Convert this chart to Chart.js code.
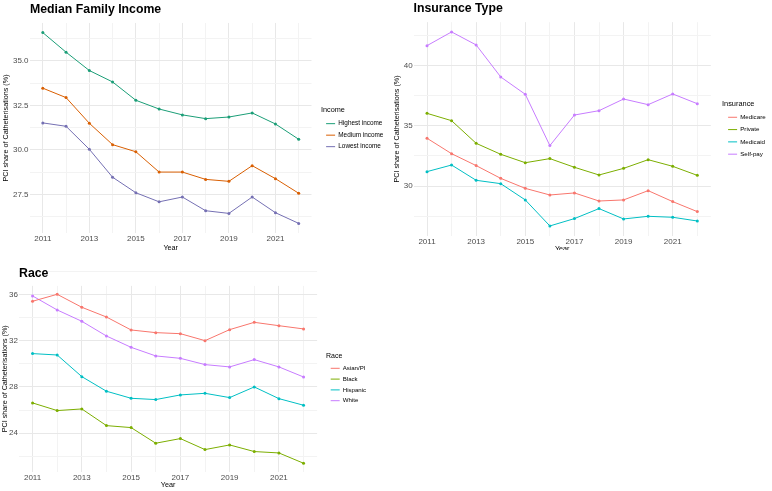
<!DOCTYPE html>
<html>
<head>
<meta charset="utf-8">
<script src="https://cdn.jsdelivr.net/npm/chart.js@4/dist/chart.umd.min.js"></script>
<style>
body { margin: 0; background: #fff; }
#wrap { position: relative; width: 772px; height: 491px; }
canvas { position: absolute; }
</style>
</head>
<body>
<div id="wrap">
  <canvas id="income-chart" width="390" height="250" style="left:0;top:0"></canvas>
  <canvas id="insurance-chart" width="382" height="250" style="left:390px;top:0"></canvas>
  <canvas id="race-chart" width="390" height="241" style="left:0;top:250px"></canvas>
</div>
<script>
const years = [2011, 2012, 2013, 2014, 2015, 2016, 2017, 2018, 2019, 2020, 2021, 2022];
const xTickLabels = ['2011', '2013', '2015', '2017', '2019', '2021'];

// Median family income
const incomeGroups = ['Highest income', 'Medium income', 'Lowest income'];
const highestIncome = [36.59, 35.49, 34.46, 33.82, 32.79, 32.30, 31.97, 31.76, 31.85, 32.08, 31.46, 30.60];
const mediumIncome = [33.47, 32.94, 31.50, 30.30, 29.90, 28.76, 28.76, 28.35, 28.24, 29.12, 28.39, 27.57];
const lowestIncome = [31.52, 31.33, 30.04, 28.47, 27.60, 27.09, 27.36, 26.59, 26.44, 27.36, 26.48, 25.88];
const incomeYTicks = [27.5, 30, 32.5, 35];
const incomeYLabels = ['27.5', '30.0', '32.5', '35.0'];

// Insurance type
const insuranceGroups = ['Medicare', 'Private', 'Medicaid', 'Self-pay'];
const medicare = [33.97, 32.69, 31.70, 30.64, 29.81, 29.26, 29.43, 28.76, 28.85, 29.62, 28.71, 27.88];
const privateIns = [36.04, 35.43, 33.55, 32.64, 31.94, 32.28, 31.56, 30.92, 31.47, 32.19, 31.64, 30.89];
const medicaid = [31.20, 31.75, 30.48, 30.20, 28.85, 26.69, 27.30, 28.13, 27.27, 27.49, 27.41, 27.10];
const selfPay = [41.66, 42.80, 41.72, 39.06, 37.62, 33.36, 35.90, 36.26, 37.23, 36.76, 37.65, 36.84];
const insuranceYTicks = [30, 35, 40];
const insuranceYLabels = ['30', '35', '40'];

// Race
const raceGroups = ['Asian/PI', 'Black', 'Hispanic', 'White'];
const asianPI = [35.40, 36.00, 34.88, 34.04, 32.92, 32.69, 32.60, 32.00, 32.95, 33.58, 33.29, 33.01];
const black = [26.62, 25.96, 26.10, 24.66, 24.49, 23.14, 23.54, 22.59, 22.99, 22.42, 22.30, 21.41];
const hispanic = [30.88, 30.76, 28.89, 27.63, 27.02, 26.91, 27.31, 27.45, 27.08, 28.00, 26.99, 26.42];
const white = [35.86, 34.65, 33.67, 32.40, 31.42, 30.68, 30.47, 29.93, 29.73, 30.36, 29.73, 28.86];
const raceYTicks = [24, 28, 32, 36];
const raceYLabels = ['24', '28', '32', '36'];

const dark2 = ['#1B9E77', '#D95F02', '#7570B3'];
const hue4 = ['#F8766D', '#7CAE00', '#00BFC4', '#C77CFF'];

Chart.defaults.font.family = "'Liberation Sans', Arial, sans-serif";

const MAJOR_GRID = '#e8e8e8';
const MINOR_GRID = '#f3f3f3';

// the legend takes a fixed width so the panel edge stays where it should
const legendWidthPlugin = {
    id: 'legendWidth',
    beforeLayout(chart, args, opts) {
        const lg = chart.legend;
        if (lg && !lg._fixedFit) {
            const origFit = lg.fit.bind(lg);
            lg.fit = function() {
                origFit();
                this.width = opts.width;
            };
            lg._fixedFit = true;
        }
    }
};

function withMinors(majors) {
    // ggplot style minor breaks half-way between majors, one step beyond each end
    const step = majors[1] - majors[0];
    const all = [majors[0] - step / 2];
    majors.forEach(v => { all.push(v); all.push(v + step / 2); });
    return all;
}

function buildChart(canvasId, p) {
    const canvas = document.getElementById(canvasId);
    const ctx = canvas.getContext('2d');
    const xMajor = xTickLabels.map(Number);
    const yAll = withMinors(p.yTicks);

    return new Chart(ctx, {
        type: 'line',
        plugins: [legendWidthPlugin],
        data: {
            datasets: p.series.map((s, i) => ({
                label: p.groups[i],
                data: years.map((yr, j) => ({ x: yr, y: s[j] })),
                borderColor: p.colors[i],
                backgroundColor: p.colors[i],
                borderWidth: 1,
                pointRadius: 1.5,
                pointBorderWidth: 0,
                tension: 0
            }))
        },
        options: {
            responsive: false,
            animation: false,
            devicePixelRatio: 1,
            layout: { padding: 0 },
            plugins: {
                tooltip: { enabled: false },
                legendWidth: { width: canvas.width - p.legendLeft },
                title: {
                    display: true,
                    text: p.title,
                    align: 'start',
                    fullSize: false,
                    color: '#000',
                    font: { size: 12.3, weight: 'bold' },
                    padding: { top: p.titleTop, bottom: p.titleBottom }
                },
                legend: {
                    position: 'right',
                    align: 'start',
                    title: {
                        display: true,
                        text: p.legendTitle,
                        position: 'start',
                        color: '#000',
                        font: { size: p.legendTitleSize },
                        padding: { top: p.legendTitleTop, bottom: p.legendTitleBottom }
                    },
                    labels: {
                        usePointStyle: true,
                        pointStyleWidth: 9,
                        color: '#000',
                        font: { size: p.legendSize },
                        padding: p.legendPad,
                        generateLabels: chart => {
                            const items = Chart.defaults.plugins.legend.labels.generateLabels(chart);
                            return items.map(it => Object.assign(it, {
                                pointStyle: 'line',
                                lineWidth: 1,
                                strokeStyle: p.colors[it.datasetIndex]
                            }));
                        }
                    }
                }
            },
            scales: {
                x: {
                    type: 'linear',
                    min: 2010.45,
                    max: 2022.55,
                    afterBuildTicks: s => { s.ticks = years.map(v => ({ value: v })); },
                    afterFit: s => { s.height = p.xHeight; },
                    ticks: {
                        autoSkip: false,
                        maxRotation: 0,
                        padding: p.xTickPad,
                        color: '#4d4d4d',
                        font: { size: 8 },
                        callback: v => xTickLabels.includes(String(v)) ? String(v) : ''
                    },
                    grid: {
                        drawTicks: false,
                        color: c => xMajor.includes(c.tick && c.tick.value) ? MAJOR_GRID : MINOR_GRID,
                        lineWidth: 1
                    },
                    border: { display: false },
                    title: {
                        display: true,
                        text: 'Year',
                        color: '#000',
                        font: { size: 7.2 },
                        padding: { top: 0, bottom: p.xTitlePad }
                    }
                },
                y: {
                    type: 'linear',
                    min: p.yMin,
                    max: p.yMax,
                    afterBuildTicks: s => { s.ticks = yAll.map(v => ({ value: v })); },
                    afterFit: s => { s.width = p.yWidth; },
                    ticks: {
                        autoSkip: false,
                        padding: p.yTickPad,
                        color: '#4d4d4d',
                        font: { size: 8 },
                        callback: v => {
                            const k = p.yTicks.indexOf(v);
                            return k >= 0 ? p.yLabels[k] : '';
                        }
                    },
                    grid: {
                        drawTicks: false,
                        color: c => p.yTicks.includes(c.tick && c.tick.value) ? MAJOR_GRID : MINOR_GRID,
                        lineWidth: 1
                    },
                    border: { display: false },
                    title: {
                        display: true,
                        text: 'PCI share of Catheterisations (%)',
                        color: '#000',
                        font: { size: 7.2 },
                        padding: { top: p.yTitlePad, bottom: 0 }
                    }
                },
                // empty axis, only keeps the legend a little away from the panel
                spacer: {
                    type: 'linear',
                    position: 'right',
                    display: true,
                    grid: { display: false },
                    border: { display: false },
                    ticks: { display: false },
                    afterFit: s => { s.width = p.gap; }
                }
            }
        }
    });
}

document.addEventListener('DOMContentLoaded', function() {
    buildChart('income-chart', {
        title: 'Median Family Income',
        legendTitle: 'Income',
        groups: incomeGroups,
        series: [highestIncome, mediumIncome, lowestIncome],
        colors: dark2,
        yTicks: incomeYTicks, yLabels: incomeYLabels,
        yMin: 25.34, yMax: 37.13,
        yWidth: 30, xHeight: 17, gap: 9.5, legendLeft: 321,
        titleTop: 2.6, titleBottom: 5.6,
        xTickPad: 1.2, xTitlePad: -2.3, yTickPad: 1.5, yTitlePad: 1.7,
        legendSize: 6.4, legendPad: 5.1, legendTitleSize: 7.3, legendTitleTop: 106, legendTitleBottom: 0.6
    });

    buildChart('insurance-chart', {
        title: 'Insurance Type',
        legendTitle: 'Insurance',
        groups: insuranceGroups,
        series: [medicare, privateIns, medicaid, selfPay],
        colors: hue4,
        yTicks: insuranceYTicks, yLabels: insuranceYLabels,
        yMin: 25.88, yMax: 43.61,
        yWidth: 23.5, xHeight: 14.3, gap: 11.2, legendLeft: 332,
        titleTop: 1.6, titleBottom: 5.8,
        xTickPad: 0.8, xTitlePad: -3.8, yTickPad: 0.8, yTitlePad: 2.4,
        legendSize: 6.2, legendPad: 6.1, legendTitleSize: 7.4, legendTitleTop: 100, legendTitleBottom: -0.8
    });

    buildChart('race-chart', {
        title: 'Race',
        legendTitle: 'Race',
        groups: raceGroups,
        series: [asianPI, black, hispanic, white],
        colors: hue4,
        yTicks: raceYTicks, yLabels: raceYLabels,
        yMin: 20.68, yMax: 36.73,
        yWidth: 19, xHeight: 19.3, gap: 8.9, legendLeft: 326,
        titleTop: 16.6, titleBottom: 4.5,
        xTickPad: 1.2, xTitlePad: 1.4, yTickPad: 1, yTitlePad: 0.7,
        legendSize: 6.1, legendPad: 4.7, legendTitleSize: 7, legendTitleTop: 102.5, legendTitleBottom: -0.35
    });
});
</script>
</body>
</html>
